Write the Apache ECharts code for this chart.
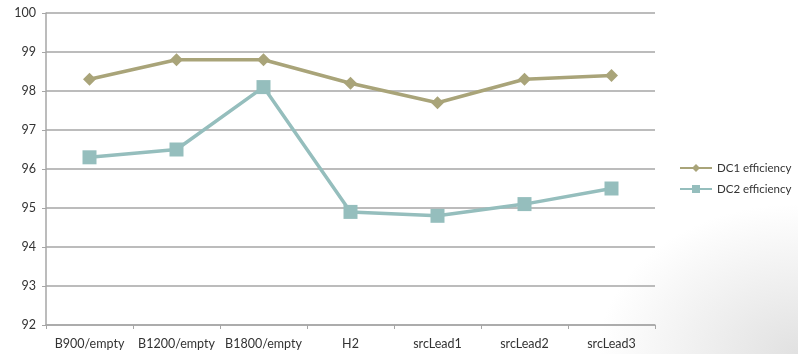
<!DOCTYPE html>
<html>
<head>
<meta charset="utf-8">
<script src="https://cdn.jsdelivr.net/npm/echarts@6/dist/echarts.min.js"></script>
<style>
  html, body { margin: 0; padding: 0; }
  body {
    width: 798px; height: 354px;
    background:
      radial-gradient(ellipse 200px 150px at 100% 100%, rgba(205,205,205,0.6), rgba(255,255,255,0) 100%),
      #ffffff;
  }
  #chart { width: 798px; height: 354px; }
</style>
</head>
<body>
<div id="chart"></div>
<script>
// Efficiency per configuration
const categories = ['B900/empty', 'B1200/empty', 'B1800/empty', 'H2', 'srcLead1', 'srcLead2', 'srcLead3'];
const dc1Efficiency = [98.3, 98.8, 98.8, 98.2, 97.7, 98.3, 98.4];
const dc2Efficiency = [96.3, 96.5, 98.1, 94.9, 94.8, 95.1, 95.5];
const yTicks = [92, 93, 94, 95, 96, 97, 98, 99, 100];

const font = 'Lato, "Open Sans", sans-serif';
const chart = echarts.init(document.getElementById('chart'), null, { renderer: 'canvas' });

chart.setOption({
  backgroundColor: 'transparent',
  animation: false,
  grid: { left: 46, right: 143, top: 13, bottom: 29 },
  legend: {
    orient: 'vertical',
    left: 674,
    top: 157,
    itemGap: 9,
    itemWidth: 32,
    itemHeight: 10,
    textStyle: { fontFamily: font, fontSize: 11.5, color: '#333333' },
    data: ['DC1 efficiency', 'DC2 efficiency']
  },
  xAxis: {
    type: 'category',
    data: categories,
    boundaryGap: true,
    axisLine: { lineStyle: { color: '#a6a6a6', width: 1.5 } },
    axisTick: { show: true, length: 4, lineStyle: { color: '#a6a6a6' } },
    axisLabel: { interval: 0, fontFamily: font, fontSize: 12.5, color: '#333333', margin: 12 }
  },
  yAxis: {
    type: 'value',
    min: yTicks[0],
    max: yTicks[yTicks.length - 1],
    interval: 1,
    axisLine: { show: true, lineStyle: { color: '#a6a6a6', width: 1.5 } },
    axisTick: { show: true, length: 4, lineStyle: { color: '#a6a6a6' } },
    axisLabel: { fontFamily: font, fontSize: 12.5, color: '#333333', margin: 10 },
    splitLine: { lineStyle: { color: '#a6a6a6', width: 1.5 } }
  },
  series: [
    {
      name: 'DC1 efficiency',
      type: 'line',
      data: dc1Efficiency,
      symbol: 'diamond',
      symbolSize: 13,
      itemStyle: { color: '#a9a479' },
      lineStyle: { color: '#a9a479', width: 3.5 },
      z: 3
    },
    {
      name: 'DC2 efficiency',
      type: 'line',
      data: dc2Efficiency,
      symbol: 'rect',
      symbolSize: 14,
      itemStyle: { color: '#95bebd' },
      lineStyle: { color: '#95bebd', width: 3.5 },
      z: 2
    }
  ]
});
</script>
</body>
</html>
